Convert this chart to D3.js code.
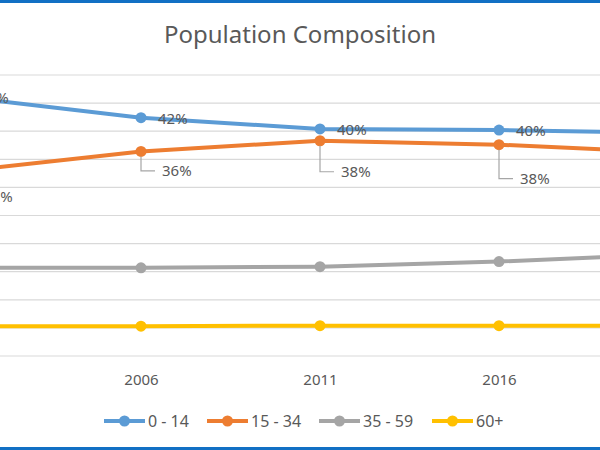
<!DOCTYPE html>
<html>
<head>
<meta charset="utf-8">
<script src="https://cdn.jsdelivr.net/npm/d3@7"></script>
<style>
  body { margin: 0; background: #fff; }
  svg { display: block; font-family: "Noto Sans", sans-serif; }
</style>
</head>
<body>
<svg id="chart" width="600" height="450"></svg>
<script>
// values (percent of population)
const years = ["2001", "2006", "2011", "2016", "2021"];
const age0to14 = [46.1, 42.4, 40.4, 40.2, 39.7];
const age15to34 = [32.9, 36.4, 38.3, 37.6, 36.2];
const age35to59 = [15.7, 15.7, 15.9, 16.8, 18.2];
const age60plus = [5.3, 5.3, 5.4, 5.4, 5.4];
const seriesNames = ["0 - 14", "15 - 34", "35 - 59", "60+"];
const yTicks = [0, 5, 10, 15, 20, 25, 30, 35, 40, 45, 50];

const colors = ["#5b9bd5", "#ed7d31", "#a5a5a5", "#ffc000"];
const textColor = "#595959";

const series = [age0to14, age15to34, age35to59, age60plus].map((vals, i) => ({
  name: seriesNames[i],
  color: colors[i],
  values: vals.map((v, j) => ({ year: years[j], value: v }))
}));

const svg = d3.select("#chart");
const W = 600, H = 450;

// plot area is wider than the visible window (chart is cropped at both sides)
const x = d3.scalePoint().domain(years).range([-38, 678]);
const y = d3.scaleLinear().domain([0, 50]).range([356, 75]);

// frame bars top and bottom
svg.append("rect").attr("x", 0).attr("y", 0).attr("width", W).attr("height", 3).attr("fill", "#1170c4");
svg.append("rect").attr("x", 0).attr("y", H - 3).attr("width", W).attr("height", 3).attr("fill", "#1170c4");

// title
svg.append("text")
  .attr("x", 300).attr("y", 43)
  .attr("text-anchor", "middle")
  .style("font-size", "24px")
  .style("fill", textColor)
  .text("Population Composition");

// gridlines
svg.append("g")
  .selectAll("line")
  .data(yTicks)
  .join("line")
  .attr("x1", -100).attr("x2", W + 100)
  .attr("y1", d => y(d)).attr("y2", d => y(d))
  .attr("stroke", "#d9d9d9")
  .attr("stroke-width", 1.2);

// x axis labels (only the years whose label falls inside the window)
const visibleYears = years.filter(yr => x(yr) > 0 && x(yr) < W);
const xAxis = svg.append("g")
  .attr("transform", `translate(0,${y(0)})`)
  .call(d3.axisBottom(x).tickValues(visibleYears).tickSize(0).tickPadding(18));
xAxis.select(".domain").remove();
xAxis.selectAll("text")
  .style("font-family", "Noto Sans, sans-serif")
  .style("font-size", "15px")
  .style("fill", textColor);

const line = d3.line()
  .x(d => x(d.year))
  .y(d => y(d.value));

// draw lines back to front so blue sits on top
const drawOrder = [3, 2, 1, 0];
drawOrder.forEach(i => {
  const s = series[i];
  const g = svg.append("g");
  g.append("path")
    .datum(s.values)
    .attr("fill", "none")
    .attr("stroke", s.color)
    .attr("stroke-width", 4)
    .attr("stroke-linejoin", "round")
    .attr("d", line);
  g.selectAll("circle")
    .data(s.values)
    .join("circle")
    .attr("cx", d => x(d.year))
    .attr("cy", d => y(d.value))
    .attr("r", 5.5)
    .attr("fill", s.color);
});

// data labels: 0 - 14 to the right of the point
svg.append("g")
  .selectAll("text")
  .data(series[0].values)
  .join("text")
  .attr("x", d => x(d.year) + 17)
  .attr("y", d => y(d.value) + 1)
  .attr("dy", "0.35em")
  .style("font-size", "15px")
  .style("fill", textColor)
  .text(d => Math.round(d.value) + "%");

// data labels: 15 - 34 below with leader lines (Excel's own placement)
const orangeDrop = [26, 19.5, 31, 34, 26];
const orangeLabels = svg.append("g")
  .selectAll("g")
  .data(series[1].values)
  .join("g");
orangeLabels.append("path")
  .attr("fill", "none")
  .attr("stroke", "#a6a6a6")
  .attr("stroke-width", 1.2)
  .attr("d", (d, i) => {
    const px = x(d.year), py = y(d.value);
    return `M${px},${py + 5}V${py + orangeDrop[i]}H${px + 14}`;
  });
orangeLabels.append("text")
  .attr("x", d => x(d.year) + 21)
  .attr("y", (d, i) => y(d.value) + orangeDrop[i])
  .attr("dy", "0.35em")
  .style("font-size", "15px")
  .style("fill", textColor)
  .text(d => Math.round(d.value) + "%");

// legend
const legendX = [104, 207, 319, 432];
const legend = svg.append("g")
  .selectAll("g")
  .data(series)
  .join("g")
  .attr("transform", (d, i) => `translate(${legendX[i]},421)`);
legend.append("line")
  .attr("x1", 0).attr("x2", 41)
  .attr("stroke", d => d.color)
  .attr("stroke-width", 4);
legend.append("circle")
  .attr("cx", 20.5).attr("r", 5.5)
  .attr("fill", d => d.color);
legend.append("text")
  .attr("x", 44)
  .attr("dy", "0.35em")
  .style("font-size", "16px")
  .style("fill", textColor)
  .text(d => d.name);
</script>
</body>
</html>
